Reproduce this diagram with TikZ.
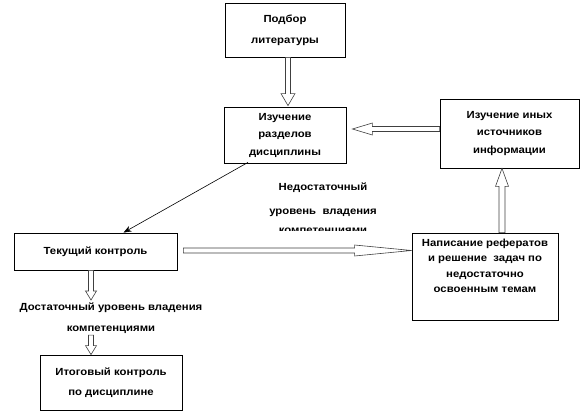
\documentclass[tikz,border=0pt]{standalone}
\usepackage{fontspec}
\setmainfont[FakeStretch=1.1]{Liberation Sans}
\usetikzlibrary{calc,arrows.meta}
\tikzset{
  box/.style={draw=black, line width=0.8pt, fill=white, align=center, inner sep=0pt,
    font=\bfseries\fontsize{10.3}{17.5}\selectfont},
  lbl/.style={align=center, inner sep=0pt, font=\bfseries\fontsize{10.3}{21}\selectfont},
  blockarr/.style={draw=black!75, line width=0.6pt, fill=white, line join=miter},
  thinarr/.style={draw=black, line width=0.6pt, -{Stealth[length=8pt,width=6pt]}}
}
% #1 options, #2 start, #3 tip, #4 shaft half width, #5 head half width, #6 head length
\newcommand\blockarrow[6][]{%
  \coordinate (ba-base) at ($(#3)!#6!(#2)$);
  \draw[blockarr,#1] ($(#2)!#4!90:(#3)$) -- ($(ba-base)!#4!90:(#3)$) -- ($(ba-base)!#5!90:(#3)$)
    -- (#3) -- ($(ba-base)!#5!-90:(#3)$) -- ($(ba-base)!#4!-90:(#3)$) -- ($(#2)!#4!-90:(#3)$) -- cycle;
}
\begin{document}
\begin{tikzpicture}[x=1pt,y=-1pt]
\useasboundingbox (0,0) rectangle (586,414);
\node[box, minimum width=120pt, minimum height=54pt, font=\bfseries\fontsize{10.3}{21}\selectfont] (lit) at (285,30) {Подбор\\литературы};
\node[box, minimum width=122pt, minimum height=56pt] (razd) at (285,135) {Изучение\\разделов\\дисциплины};
\node[box, minimum width=139pt, minimum height=69pt] (ist) at (509.5,133.5) {Изучение иных\\источников\\информации};
\node[box, minimum width=163pt, minimum height=37pt] (tek) at (95.5,251.5) {Текущий контроль};
\node[box, minimum width=146pt, minimum height=87pt, font=\bfseries\fontsize{10.3}{15.6}\selectfont] (ref) at (485,276.5) {Написание рефератов\\и решение \ задач по\\недостаточно\\освоенным темам\\[6pt]};
\node[box, minimum width=142pt, minimum height=55pt, font=\bfseries\fontsize{10.3}{20}\selectfont] (itog) at (111,382.5) {Итоговый контроль\\по дисциплине};

\node[lbl, font=\bfseries\fontsize{10.3}{24}\selectfont] (nedost) at (323,200) {Недостаточный\\уровень \ владения};
\begin{scope}
  \clip (250,227) rectangle (410,230);
  \node[lbl] (nedost3) at (323,232) {компетенциями};
\end{scope}
\node[lbl] (dost) at (111,318.5) {Достаточный уровень владения\\компетенциями};

% block arrows
\coordinate (a1s) at ([xshift=3pt]lit.south);
\coordinate (a1e) at ([xshift=3pt,yshift=1pt]razd.north);
\blockarrow{a1s}{a1e}{2.5pt}{7pt}{12pt}

\coordinate (a2s) at ([yshift=4.5pt]ist.west);
\coordinate (a2e) at ([xshift=6pt]razd.east |- a2s);
\blockarrow{a2s}{a2e}{2.5pt}{6pt}{20pt}

\coordinate (a3s) at ([xshift=17pt]ref.north);
\coordinate (a3e) at (a3s |- ist.south);
\blockarrow{a3s}{a3e}{3pt}{6.5pt}{18pt}

\coordinate (a4s) at ([xshift=6pt,yshift=1pt]tek.east);
\coordinate (a4e) at (ref.west |- a4s);
\blockarrow{a4s}{a4e}{2.5pt}{5.5pt}{57pt}

\coordinate (a5s) at ([xshift=-4.5pt]tek.south);
\coordinate (a5e) at (a5s |- 0,300);
\blockarrow{a5s}{a5e}{2.5pt}{5.5pt}{9pt}

\coordinate (a6s) at ([yshift=-1pt]dost.south -| a5s);
\coordinate (a6e) at (a5s |- itog.north);
\blockarrow{a6s}{a6e}{2.5pt}{5.5pt}{9pt}

% thin arrow
\coordinate (t1s) at ([xshift=-37pt,yshift=1pt]razd.south);
\draw[thinarr] (t1s) -- ([xshift=28pt]tek.north);
\end{tikzpicture}
\end{document}
